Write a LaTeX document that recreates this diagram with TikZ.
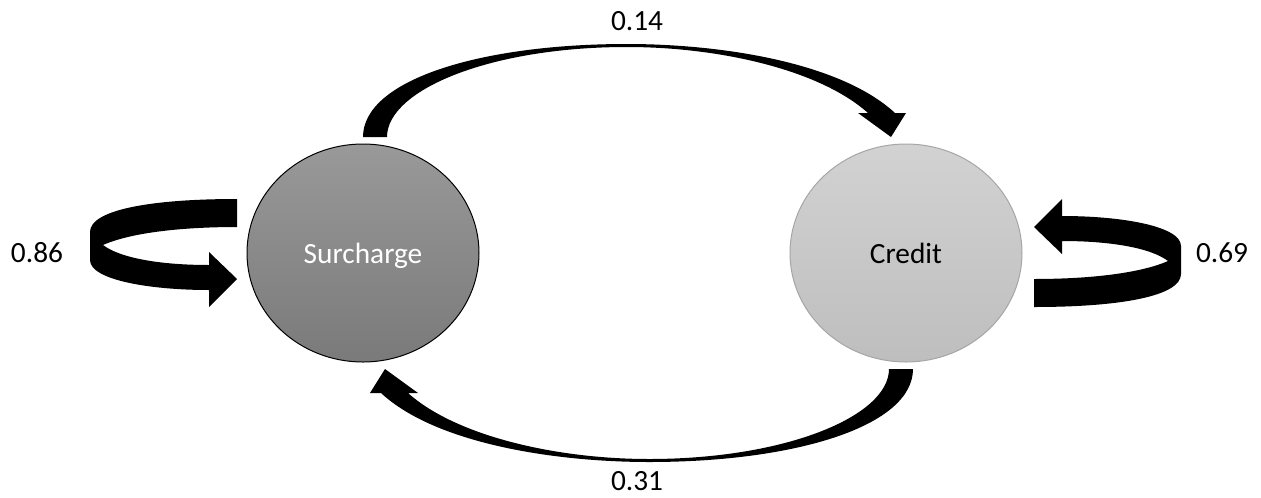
\documentclass[tikz,border=0pt]{standalone}
\usepackage{fontspec}
\setmainfont{Carlito}
\usetikzlibrary{shapes.geometric}

\definecolor{surtop}{RGB}{153,153,153}
\definecolor{surbot}{RGB}{122,122,122}
\definecolor{credtop}{RGB}{210,210,210}
\definecolor{credbot}{RGB}{190,190,190}
\definecolor{credline}{RGB}{166,166,166}

\tikzset{
	state/.style={ellipse, minimum width=174pt, minimum height=163.5pt, inner sep=0pt,
		line width=0.75pt, font=\fontsize{22}{26}\selectfont},
	prob/.style={anchor=base, inner sep=0pt, font=\fontsize{22}{26}\selectfont},
	swoosh/.style={fill=black, draw=none}
}

% band arrow from the top of one state to the other
\newcommand{\crossarrow}{%
	\fill[swoosh] (363,137) .. controls (363,80) and (480,44) .. (627,44)
		.. controls (720,44) and (840,62) .. (895,113) -- (906,113) -- (891,137)
		-- (858,113) -- (868,113) .. controls (820,70) and (720,47) .. (627,47)
		.. controls (490,47) and (387,90) .. (387,137) -- cycle;}
% band arrow turning back into the same state
\newcommand{\selfloop}{%
	\fill[swoosh] (237,199) .. controls (150,199) and (90,210) .. (90,232) -- (90,260)
		.. controls (90,280) and (150,290) .. (209,290) -- (209,307) -- (237,279)
		-- (209,252) -- (209,265) .. controls (160,265) and (120,258) .. (103,245)
		.. controls (130,233) and (180,227) .. (237,227) -- cycle;}

\begin{document}
\begin{tikzpicture}[x=0.75pt, y=-0.75pt]
	
	\useasboundingbox (0,0) rectangle (1261,497);
	
	\node[state, draw=black, top color=surtop, bottom color=surbot, text=white,
		text depth=0pt] (sur) at (363,253) {Surcharge};
	\node[state, draw=credline, top color=credtop, bottom color=credbot] (cred) at (906,253) {Credit};
	
	\crossarrow
	\begin{scope}[rotate around={180:(638,253)}]
		\crossarrow
	\end{scope}
	
	\selfloop
	\begin{scope}[rotate around={180:(635.5,253)}]
		\selfloop
	\end{scope}
	
	\node[prob] (p14) at (637,30) {0.14};
	\node[prob] (p31) at (637,490) {0.31};
	\node[prob] (p86) at (37,262) {0.86};
	\node[prob] (p69) at (1222,262) {0.69};
	%\node[prob] at (sur.north) {};
	
\end{tikzpicture}
\end{document}
